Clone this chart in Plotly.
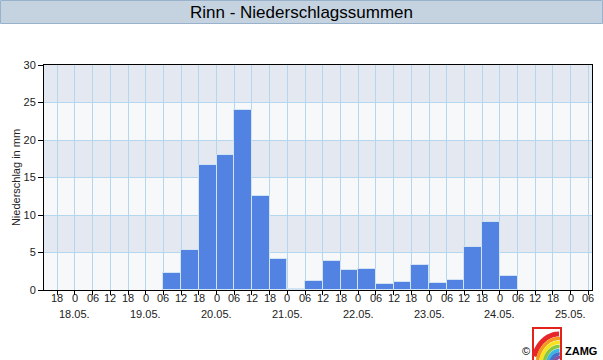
import math
import pandas as pd
import plotly.graph_objects as go

# ---------------- data ----------------
precip_mm = [2.3, 5.3, 16.7, 18.0, 24.0, 12.5, 4.1, 0.1, 1.2, 3.9,
             2.7, 2.8, 0.8, 1.1, 3.3, 0.9, 1.3, 5.7, 9.1, 1.9]
first_period_start = "2021-05-19 06:00"
period_hours = 6

tick_start = "2021-05-17 18:00"
tick_end = "2021-05-25 06:00"
hour_labels = ["18",
               "0", "06", "12", "18",
               "0", "06", "12", "18",
               "0", "06", "12", "18",
               "0", "06", "12", "18",
               "0", "06", "12", "18",
               "0", "06", "12", "18",
               "0", "06", "12", "18",
               "0", "06"]
day_labels = ["18.05.", "19.05.", "20.05.", "21.05.", "22.05.", "23.05.", "24.05.", "25.05."]

title_text = "Rinn - Niederschlagssummen"
y_title = "Niederschlag in mm"

# ---------------- derived ----------------
starts = pd.date_range(first_period_start, periods=len(precip_mm), freq=f"{period_hours}h")
centers = starts + pd.Timedelta(hours=period_hours / 2)
tick_vals = pd.date_range(tick_start, tick_end, freq="6h")

# pixel layout helpers
W, H = 603, 360
L, R, T, B = 44, 11, 65, 70
PW, PH = W - L - R, H - T - B


def px(x):
    return (x - L) / PW


def py(y):
    return (H - B - y) / PH


FONT = "Liberation Sans, Arial"

fig = go.Figure()
fig.add_trace(go.Bar(
    x=centers, y=precip_mm,
    width=period_hours * 3600 * 1000,
    marker=dict(color="#5282E2", line=dict(color="#D2E3F3", width=1)),
    hoverinfo="x+y",
))

shapes = []
# alternating background bands
for lo in (5, 15, 25):
    shapes.append(dict(type="rect", xref="paper", yref="y", x0=0, x1=1, y0=lo, y1=lo + 5,
                       fillcolor="#E4E9F1", line=dict(width=0), layer="below"))
# title bar
shapes.append(dict(type="rect", xref="paper", yref="paper",
                   x0=px(0.5), x1=px(602.5), y0=py(23.5), y1=py(0.5),
                   fillcolor="#C5D3E1", line=dict(color="#98B2CC", width=1), layer="above"))
# logo frame
shapes.append(dict(type="path", xref="paper", yref="paper",
                   path=f"M {px(533)},{py(361)} L {px(533)},{py(328)} L {px(561)},{py(328)} L {px(561)},{py(361)}",
                   line=dict(color="#E2231A", width=2)))
# rainbow arcs
rain = [("#E8262A", 26, 32, 5), ("#F39A1E", 22, 27.5, 3.5), ("#F5E31C", 18.5, 23.5, 3.5),
        ("#8CC63F", 15, 19.5, 3.5), ("#3AB5E5", 11.5, 15.5, 3.5), ("#4670C8", 8.5, 12, 3.5),
        ("#8A4FA0", 5.5, 8.5, 3.5)]
cx, cy = 559, 366
for col, rx, ry, wdt in rain:
    pts = []
    for k in range(0, 41):
        a = math.radians(180 - k * 2.5)
        x = cx + rx * math.cos(a)
        y = cy - ry * math.sin(a)
        if y <= 361 and 534 <= x <= 560:
            pts.append((x, y))
    if len(pts) > 1:
        path = "M " + " L ".join(f"{px(x)},{py(y)}" for x, y in pts)
        shapes.append(dict(type="path", xref="paper", yref="paper", path=path,
                           line=dict(color=col, width=wdt)))

annotations = [
    dict(text=title_text, xref="paper", yref="paper", x=px(301), y=py(12.5),
         xanchor="center", yanchor="middle", showarrow=False,
         font=dict(family=FONT, size=17, color="#000000")),
    dict(text="©", xref="paper", yref="paper", x=px(526), y=py(351),
         xanchor="center", yanchor="middle", showarrow=False,
         font=dict(family=FONT, size=11, color="#000000")),
    dict(text="<b>ZAMG</b>", xref="paper", yref="paper", x=px(563), y=py(351),
         xanchor="left", yanchor="middle", showarrow=False,
         font=dict(family=FONT, size=11, color="#000000")),
]
# hour tick labels (line 1) and day labels (line 2) as axis-anchored annotations
d = 0
for tv, lab in zip(tick_vals, hour_labels):
    annotations.append(dict(text=lab, xref="x", yref="paper", x=tv, y=py(298),
                            xanchor="center", yanchor="middle", showarrow=False,
                            font=dict(family=FONT, size=11, color="#222222")))
    if lab == "0":
        annotations.append(dict(text=day_labels[d], xref="x", yref="paper", x=tv, y=py(314),
                                xanchor="center", yanchor="middle", showarrow=False,
                                font=dict(family=FONT, size=11, color="#222222")))
        d += 1

fig.update_layout(
    width=W, height=H,
    margin=dict(l=L, r=R, t=T, b=B, pad=0),
    paper_bgcolor="#FFFFFF",
    plot_bgcolor="#F6F8FA",
    showlegend=False,
    bargap=0,
    shapes=shapes,
    annotations=annotations,
    font=dict(family=FONT, size=11, color="#222222"),
)
fig.update_xaxes(
    type="date", automargin=False,
    range=[pd.Timestamp(tick_start) - pd.Timedelta(hours=4.5),
           pd.Timestamp(tick_end) + pd.Timedelta(hours=1.25)],
    tickmode="array", tickvals=tick_vals, showticklabels=False,
    showgrid=True, gridcolor="#B4D6EE", gridwidth=1,
    showline=True, linecolor="#000000", linewidth=1, mirror=True,
    ticks="outside", ticklen=4, tickcolor="#000000",
    zeroline=False, fixedrange=True,
)
fig.update_yaxes(
    range=[0, 30], dtick=5, tick0=0, automargin=False,
    showgrid=True, gridcolor="#B4D6EE", gridwidth=1,
    showline=True, linecolor="#000000", linewidth=1, mirror=True,
    ticks="outside", ticklen=5, tickcolor="#000000",
    tickfont=dict(size=11, color="#222222"),
    title=dict(text=y_title, font=dict(size=11, color="#222222"), standoff=0),
    zeroline=False, fixedrange=True,
)

fig.write_html(
    "out.html",
    config={"displayModeBar": False},
    post_script="document.body.style.margin='0';document.body.style.padding='0';document.documentElement.style.overflow='hidden';",
)
